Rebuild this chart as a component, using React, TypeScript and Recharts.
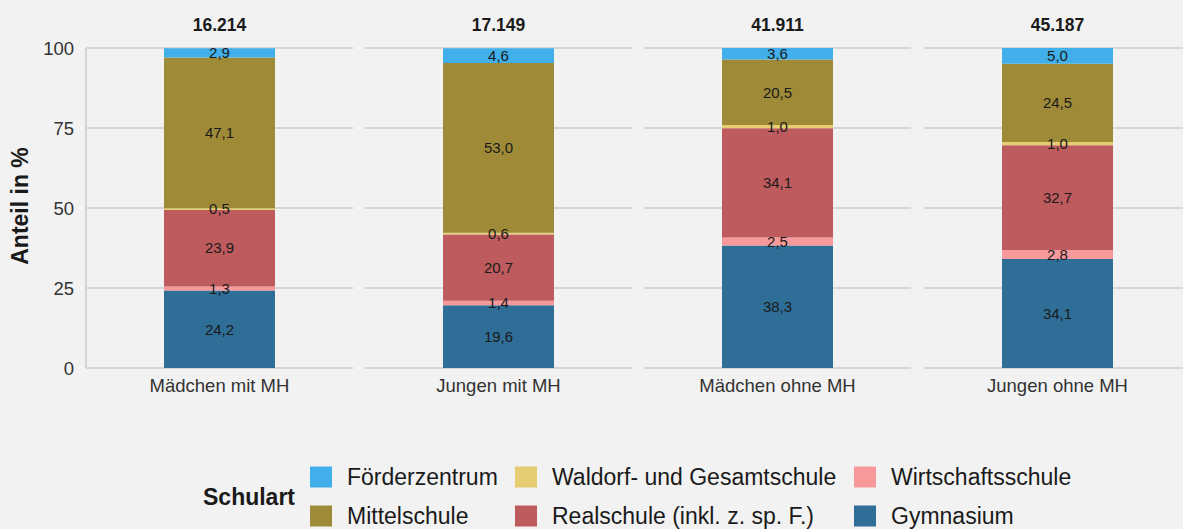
import React from "react";
import {
  BarChart,
  Bar,
  XAxis,
  YAxis,
  CartesianGrid,
  LabelList,
} from "recharts";

document.body.style.margin = "0";

const categories = ["Mädchen mit MH", "Jungen mit MH", "Mädchen ohne MH", "Jungen ohne MH"];
const totals = ["16.214", "17.149", "41.911", "45.187"];

// Anteile in %, von unten nach oben gestapelt
const gymnasium = [24.2, 19.6, 38.3, 34.1];
const wirtschaftsschule = [1.3, 1.4, 2.5, 2.8];
const realschule = [23.9, 20.7, 34.1, 32.7];
const waldorf = [0.5, 0.6, 1.0, 1.0];
const mittelschule = [47.1, 53.0, 20.5, 24.5];
const foerderzentrum = [2.9, 4.6, 3.6, 5.0];

const yTicks = [0, 25, 50, 75, 100];

const series = [
  { key: "gym", name: "Gymnasium", color: "#2f6e96", values: gymnasium },
  { key: "wirt", name: "Wirtschaftsschule", color: "#f7999a", values: wirtschaftsschule },
  { key: "real", name: "Realschule (inkl. z. sp. F.)", color: "#bd5b5e", values: realschule },
  { key: "wald", name: "Waldorf- und Gesamtschule", color: "#e6cc72", values: waldorf },
  { key: "mittel", name: "Mittelschule", color: "#9e8a37", values: mittelschule },
  { key: "foerder", name: "Förderzentrum", color: "#41b0ea", values: foerderzentrum },
];

// legend order as in the reference (3 columns, 2 rows)
const legendRows = [
  ["foerder", "wald", "wirt"],
  ["mittel", "real", "gym"],
];

const FONT = '"Liberation Sans", Arial, sans-serif';
const GRID = "#d5d5d5";

const panelLeft = [86, 365, 644, 924];
const PANEL_W = 267;
const CHART_H = 400;

const fmt = (v: any) => Number(v).toFixed(1).replace(".", ",");

function Panel({ idx }: { idx: number }) {
  const row: any = { cat: categories[idx] };
  series.forEach((s) => (row[s.key] = s.values[idx]));
  const first = idx === 0;
  const yW = first ? 86 : 0;
  return (
    <div
      style={{
        position: "absolute",
        top: 0,
        left: panelLeft[idx] - yW,
      }}
    >
      <BarChart
        width={PANEL_W + yW}
        height={CHART_H}
        data={[row]}
        margin={{ top: 48, right: 0, left: 0, bottom: 0 }}
      >
        <CartesianGrid vertical={false} stroke={GRID} strokeWidth={2} />
        <XAxis
          dataKey="cat"
          tickLine={false}
          axisLine={false}
          height={32}
          tickMargin={5}
          tick={{ fontSize: 18.5, fill: "#333", fontFamily: FONT }}
        />
        <YAxis
          hide={!first}
          width={yW}
          domain={[0, 100]}
          ticks={yTicks}
          allowDataOverflow
          tickLine={false}
          axisLine={{ stroke: GRID, strokeWidth: 2 }}
          tickMargin={6}
          tick={{ fontSize: 18.5, fill: "#333", fontFamily: FONT }}
        />
        {series.map((s) => (
          <Bar
            key={s.key}
            dataKey={s.key}
            name={s.name}
            stackId="a"
            fill={s.color}
            barSize={111}
            isAnimationActive={false}
          >
            <LabelList
              dataKey={s.key}
              position="center"
              formatter={fmt}
              style={{ fontSize: 15, fill: "#1a1a1a", fontFamily: FONT }}
            />
          </Bar>
        ))}
      </BarChart>
    </div>
  );
}

export default function App() {
  const byKey: any = {};
  series.forEach((s) => (byKey[s.key] = s));
  const colX = [310, 515, 854];
  const rowY = [477, 516];
  return (
    <div
      style={{
        position: "relative",
        width: 1183,
        height: 529,
        background: "#f2f2f2",
        overflow: "hidden",
        fontFamily: FONT,
        color: "#1a1a1a",
      }}
    >
      {categories.map((c, i) => (
        <Panel key={c} idx={i} />
      ))}

      {totals.map((t, i) => (
        <div
          key={t}
          style={{
            position: "absolute",
            top: 14,
            left: panelLeft[i],
            width: PANEL_W,
            textAlign: "center",
            fontWeight: "bold",
            fontSize: 17.5,
            lineHeight: "22px",
          }}
        >
          {t}
        </div>
      ))}

      <div
        style={{
          position: "absolute",
          left: 20,
          top: 206,
          transform: "translate(-50%, -50%) rotate(-90deg)",
          whiteSpace: "nowrap",
          fontWeight: "bold",
          fontSize: 23,
        }}
      >
        Anteil in %
      </div>

      <div
        style={{
          position: "absolute",
          left: 203,
          top: 497,
          transform: "translateY(-50%)",
          fontWeight: "bold",
          fontSize: 23,
        }}
      >
        Schulart
      </div>

      {legendRows.map((r, ri) =>
        r.map((k, ci) => (
          <div
            key={k}
            style={{
              position: "absolute",
              left: colX[ci],
              top: rowY[ri],
              transform: "translateY(-50%)",
              display: "flex",
              alignItems: "center",
              whiteSpace: "nowrap",
            }}
          >
            <span
              style={{
                display: "inline-block",
                width: 22,
                height: 21,
                background: byKey[k].color,
                marginRight: 15,
              }}
            />
            <span style={{ fontSize: 23 }}>{byKey[k].name}</span>
          </div>
        ))
      )}
    </div>
  );
}
